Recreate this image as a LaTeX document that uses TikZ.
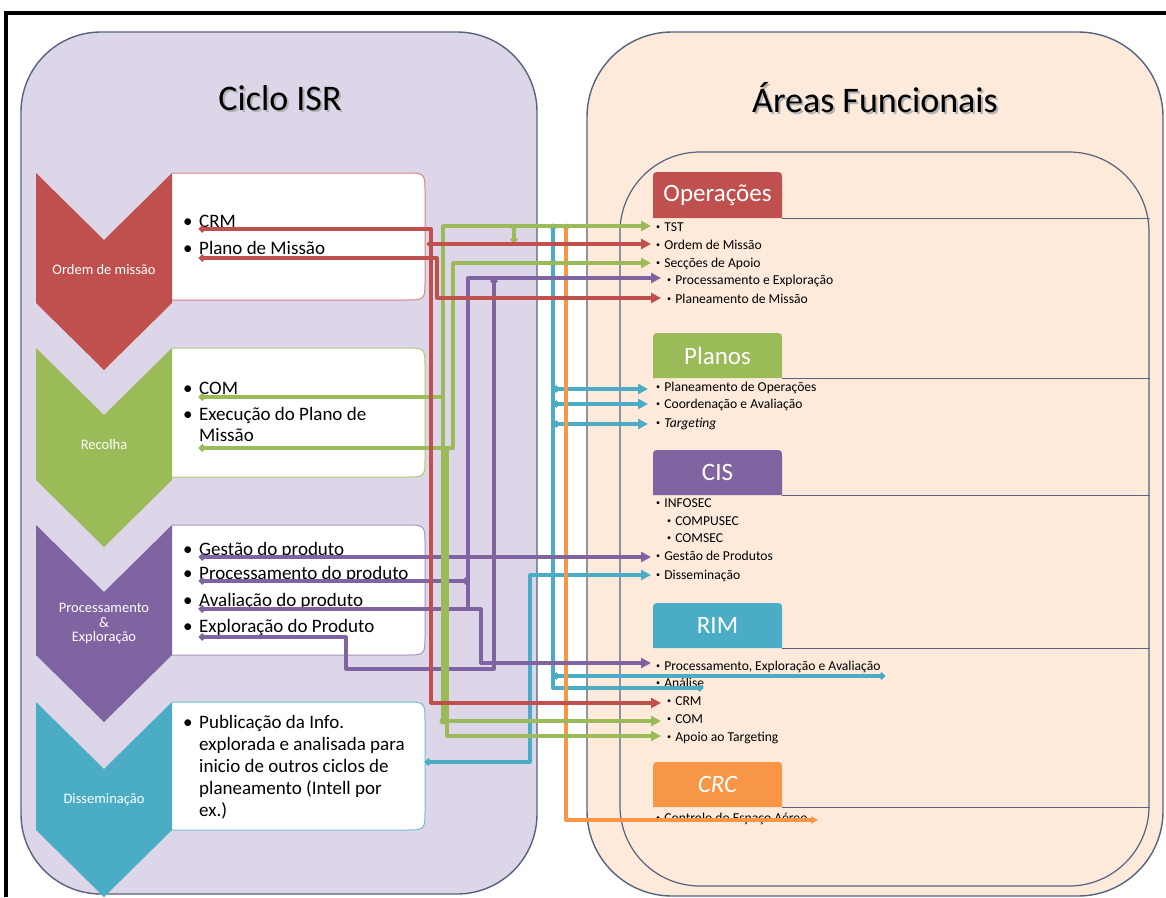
\documentclass[tikz,border=0pt]{standalone}
\usepackage{fontspec}
\setmainfont{Carlito}
\usetikzlibrary{arrows.meta}
\definecolor{cRed}{HTML}{C0504D}
\definecolor{cGreen}{HTML}{9BBB59}
\definecolor{cPurple}{HTML}{8064A2}
\definecolor{cTeal}{HTML}{4BACC6}
\definecolor{cOrange}{HTML}{F79646}
\definecolor{lav}{HTML}{DCD6E8}
\definecolor{peach}{HTML}{FDEADA}
\definecolor{edge}{HTML}{56627E}
\newcommand\sqbul{\raisebox{0.25ex}{\scalebox{0.6}{\textbullet}}\hspace{0.3em}}
% chevron: colour, top, bottom (notch depth 67)
\newcommand\chevshape[3]{\fill[#1] (36,#2) -- (104,#2+67) -- (172,#2) -- (172,#3) -- (104,#3+67) -- (36,#3) -- cycle;}
% content box with rounded right corners: border colour, top, bottom
\newcommand\cbox[3]{\filldraw[fill=white, draw=#1, line width=1pt] (172,#2) -- (405,#2) .. controls (425,#2) .. (425,#2+20) -- (425,#3-20) .. controls (425,#3) .. (405,#3) -- (172,#3);}
% header tab: colour, top, bottom, name, text
\newcommand\hdrtab[5]{\fill[#1] (653,#3) -- (653,#2+8) .. controls (653,#2) .. (661,#2) -- (774,#2) .. controls (782,#2) .. (782,#2+8) -- (782,#3) -- cycle;
  \node[hdr] (#4) at (717.5,#2/2+#3/2) {#5};
  \draw[edge, line width=1pt] (782,#3) -- (1150,#3);}
\begin{document}
\begin{tikzpicture}[x=1pt,y=-1pt,
  hdr/.style={text=white, font=\fontsize{25}{28}\selectfont, inner sep=0},
  title/.style={font=\fontsize{36}{40}\selectfont, inner sep=0},
  chevlbl/.style={text=white, font=\fontsize{14.5}{17.5}\selectfont, align=center, inner sep=0},
  item/.style={anchor=base west, font=\fontsize{19}{22}\selectfont, inner sep=0},
  ritem/.style={anchor=base west, font=\fontsize{13.6}{15}\selectfont, inner sep=0},
  wire/.style={line width=3.2pt, line join=round},
  dart/.style={wire, {Circle[length=6.5pt]}-{Triangle[length=10pt,width=10pt]}},
  ddot/.style={wire, {Circle[length=6.5pt]}-{Circle[length=6.5pt]}},
  jdot/.style={circle, fill, inner sep=0, minimum size=7pt}]
\useasboundingbox (0,0) rectangle (1166,897);
\fill[white] (0,0) rectangle (1166,897);

% outer frame
\draw[black, line width=4pt] (6,897) -- (6,13) -- (1166,13);

% panels
\filldraw[fill=lav, draw=edge, line width=1.4pt, rounded corners=80] (21,32) rectangle (537,894);
\filldraw[fill=peach, draw=edge, line width=1.4pt, rounded corners=85] (587,32) rectangle (1163,896);
\draw[edge, line width=1.2pt, rounded corners=80] (620,152) rectangle (1149,886);

% titles with shadow
\node[title, text=black!30] (isrShadow) at (282,100) {Ciclo ISR};
\node[title] (isrTitle) at (280,98) {Ciclo ISR};
\node[title, text=black!30] (afShadow) at (877,100) {Áreas Funcionais};
\node[title] (afTitle) at (875,98) {Áreas Funcionais};

% ISR cycle: content boxes and chevrons
\cbox{cRed!70}{173}{300}
\cbox{cGreen!80}{348}{477}
\cbox{cPurple!70}{525}{655}
\cbox{cTeal!80}{702}{830}
\chevshape{cRed}{173}{303}
\chevshape{cGreen}{348}{480}
\chevshape{cPurple}{525}{655}
\chevshape{cTeal}{702}{830}

\node[chevlbl] (lblOrd) at (104,270) {Ordem de missão};
\node[chevlbl] (lblRec) at (104,445) {Recolha};
\node[chevlbl] (lblPE) at (104,624) {Processamento\\[-3pt]\&\\[-3pt]Exploração};
\node[chevlbl] (lblDis) at (104,800) {Disseminação};

% ISR cycle items
\foreach \yy/\nm in {227/b1,254/b2,394/b3,420/b4,555/b5,579/b6,606/b7,632/b8,728/b9}
  \node[item] (\nm) at (183,\yy) {•};
\node[item] (iCRM) at (199,227) {CRM};
\node[item] (iPlano) at (199,254) {Plano de Missão};
\node[item] (iCOM) at (199,394) {COM};
\node[item] (iExec) at (199,420) {Execução do Plano de};
\node[item] (iExec2) at (199,441) {Missão};
\node[item] (iGest) at (199,555) {Gestão do produto};
\node[item] (iProc) at (199,579) {Processamento do produto};
\node[item] (iAval) at (199,606) {Avaliação do produto};
\node[item] (iExpl) at (199,632) {Exploração do Produto};
\node[item] (iPub1) at (199,728) {Publicação da Info.};
\node[item] (iPub2) at (199,750) {explorada e analisada para};
\node[item] (iPub3) at (199,772) {inicio de outros ciclos de};
\node[item] (iPub4) at (199,794) {planeamento (Intell por};
\node[item] (iPub5) at (199,816) {ex.)};

% functional area headers
\hdrtab{cRed}{172}{218}{hOps}{Operações}
\hdrtab{cGreen}{333}{378}{hPlan}{Planos}
\hdrtab{cPurple}{450}{495}{hCIS}{CIS}
\hdrtab{cTeal}{603}{648}{hRIM}{RIM}
\hdrtab{cOrange}{762}{807}{hCRC}{\itshape CRC}

% functional area items
\node[ritem] (rTST) at (656,231) {\sqbul TST};
\node[ritem] (rOrd) at (656,249) {\sqbul Ordem de Missão};
\node[ritem] (rSec) at (656,267) {\sqbul Secções de Apoio};
\node[ritem] (rPE) at (667,284) {\sqbul Processamento  e Exploração};
\node[ritem] (rPlan) at (667,303) {\sqbul Planeamento de Missão};
\node[ritem] (rPlOp) at (656,391) {\sqbul Planeamento de  Operações};
\node[ritem] (rCoord) at (656,408) {\sqbul Coordenação  e Avaliação};
\node[ritem] (rTarg) at (656,427) {\sqbul \textit{Targeting}};
\node[ritem] (rInfo) at (656,507) {\sqbul INFOSEC};
\node[ritem] (rCompu) at (667,525) {\sqbul COMPUSEC};
\node[ritem] (rComs) at (667,542) {\sqbul COMSEC};
\node[ritem] (rGest) at (656,560) {\sqbul Gestão de Produtos};
\node[ritem] (rDiss) at (656,579) {\sqbul Disseminação};
\node[ritem] (rPEA) at (656,670) {\sqbul Processamento, Exploração  e Avaliação};
\node[ritem] (rAnal) at (656,687) {\sqbul Análise};
\node[ritem] (rCRM) at (667,705) {\sqbul CRM};
\node[ritem] (rCOM) at (667,723) {\sqbul COM};
\node[ritem] (rApoio) at (667,741) {\sqbul Apoio ao Targeting};
\node[ritem] (rCEA) at (656,822) {\sqbul Controlo do Espaço Aéreo};

% connector end points
\coordinate (sCRM) at (199,229);
\coordinate (sPlano) at (199,258);
\coordinate (sOrd) at (427,244);
\coordinate (sCOM) at (199,397);
\coordinate (sExec) at (199,448);
\coordinate (sGest) at (199,557);
\coordinate (sProc) at (199,581);
\coordinate (sAval) at (199,609);
\coordinate (sExpl) at (199,637);
\coordinate (sPub) at (425,762);
\coordinate (tTST) at (651,226);
\coordinate (tOrd) at (651,244);
\coordinate (tSec) at (651,263);
\coordinate (tPE) at (661,278);
\coordinate (tPlan) at (661,298);
\coordinate (tPlOp) at (648,389);
\coordinate (tCoord) at (648,404);
\coordinate (tTarg) at (648,424);
\coordinate (tGest) at (651,557);
\coordinate (tDiss) at (651,575);
\coordinate (tPEA) at (651,663);
\coordinate (tAnal) at (703,688);
\coordinate (tPEAend) at (885,676);
\coordinate (tCRM) at (661,703);
\coordinate (tCOM) at (661,721);
\coordinate (tApoio) at (661,736);
\coordinate (tCEA) at (818,820);
\coordinate (tealTop) at (553,224);
\coordinate (orgTop) at (566,224);

% teal connectors
\draw[ddot, cTeal] (tealTop) -- (553,688) -- (tAnal);
\draw[dart, cTeal] (553,389) -- (tPlOp);
\draw[dart, cTeal] (553,404) -- (tCoord);
\draw[dart, cTeal] (553,424) -- (tTarg);
\draw[ddot, cTeal] (553,676) -- (tPEAend);
\draw[dart, cTeal] (sPub) -- (530,762) -- (530,575) -- (tDiss);
\node[jdot, cTeal] (tealJ) at (553,263) {};

% orange connector
\draw[wire, cOrange, {Circle[length=6.5pt]}-{Triangle[length=7pt,width=7pt]}] (orgTop) -- (566,820) -- (tCEA);

% purple connectors
\draw[dart, cPurple] (sGest) -- (tGest);
\draw[ddot, cPurple] (sProc) -- (469,581);
\draw[dart, cPurple] (sAval) -- (468,609) -- (468,278) -- (tPE);
\draw[dart, cPurple] (sAval) -- (481,609) -- (481,663) -- (tPEA);
\draw[ddot, cPurple] (sExpl) -- (346,637) -- (346,669) -- (494,669) -- (494,278);

% green connectors
\draw[dart, cGreen] (sCOM) -- (443,397) -- (443,226) -- (tTST);
\draw[dart, cGreen] (sCOM) -- (443,397) -- (443,721) -- (tCOM);
\node[jdot, cGreen] (comJ) at (443,721) {};
\draw[dart, cGreen] (sExec) -- (453,448) -- (453,263) -- (tSec);
\draw[dart, cGreen] (sExec) -- (447,448) -- (447,736) -- (tApoio);
\draw[ddot, cGreen] (514,224) -- (514,243);

% red connectors
\draw[dart, cRed] (sCRM) -- (431,229) -- (431,703) -- (tCRM);
\draw[dart, cRed] (sOrd) -- (tOrd);
\draw[dart, cRed] (sPlano) -- (437,258) -- (437,298) -- (tPlan);
\end{tikzpicture}
\end{document}
